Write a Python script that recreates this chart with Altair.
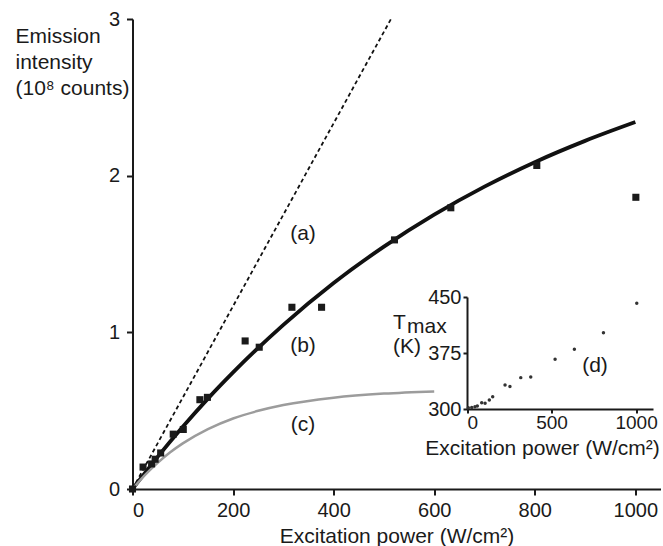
import altair as alt
import pandas as pd

FONT = "Liberation Sans"
INK = "#1a1a1a"

# (a) dashed linear extrapolation
line_a_power = [0, 514]
line_a_intensity = [0.0, 3.0]

# (b) fitted curve through the measured intensities
curve_b_power = [0, 50, 100, 150, 200, 300, 400, 500, 600, 700, 800, 900, 1000]
curve_b_intensity = [0.0, 0.205, 0.397, 0.577, 0.744, 1.048, 1.315, 1.547,
                     1.751, 1.930, 2.086, 2.222, 2.342]

# (c) grey saturation curve
curve_c_power = [0, 25, 50, 75, 100, 150, 200, 250, 300, 400, 500, 600]
curve_c_intensity = [0.0, 0.090, 0.167, 0.234, 0.291, 0.382, 0.450, 0.499,
                     0.536, 0.583, 0.609, 0.623]

# measured emission intensity (10^8 counts)
meas_power = [0, 21, 38, 45, 56, 81, 101, 134, 149, 224, 252, 317, 376,
              521, 633, 804, 1001]
meas_intensity = [0.0, 0.14, 0.16, 0.19, 0.23, 0.35, 0.38, 0.57, 0.585,
                  0.945, 0.905, 1.16, 1.16, 1.59, 1.795, 2.065, 1.862]

# (d) maximum temperature versus excitation power
inset_power = [8, 28, 47, 61, 87, 107, 132, 152, 225, 254, 318, 377, 521,
               635, 807, 1004]
inset_tmax = [301.7, 302.0, 303.0, 304.0, 308.4, 307.6, 312.0, 316.5, 332.0,
              330.0, 342.0, 343.0, 366.5, 380.0, 402.0, 441.5]

# curve labels
label_text = ["(a)", "(b)", "(c)"]
label_power = [339, 339, 339]
label_intensity = [1.63, 0.91, 0.408]

W, H = 528, 470

x_main = alt.X("power:Q",
               scale=alt.Scale(domain=[0, 1050], nice=False),
               axis=alt.Axis(values=[0, 200, 400, 600, 800, 1000], format="d",
                             title="Excitation power (W/cm²)",
                             titleY=53, titleBaseline="alphabetic",
                             labelPadding=5, tickSize=6))
y_main = alt.Y("intensity:Q",
               scale=alt.Scale(domain=[0, 3], nice=False),
               axis=alt.Axis(values=[0, 1, 2, 3], format="d",
                             title=["Emission", "intensity", "(10⁸ counts)"],
                             titleAngle=0, titleAlign="left",
                             titleBaseline="alphabetic",
                             titleX=-117.5, titleY=23, titleLineHeight=26,
                             labelPadding=7, tickSize=6))

df_a = pd.DataFrame({"power": line_a_power, "intensity": line_a_intensity})
df_b = pd.DataFrame({"power": curve_b_power, "intensity": curve_b_intensity})
df_c = pd.DataFrame({"power": curve_c_power, "intensity": curve_c_intensity})
df_m = pd.DataFrame({"power": meas_power, "intensity": meas_intensity})
df_l = pd.DataFrame({"power": label_power, "intensity": label_intensity,
                     "text": label_text})

line_a = alt.Chart(df_a).mark_line(color="#111111", strokeWidth=1.8,
                                   strokeDash=[4, 3]).encode(x=x_main, y=y_main)
line_b = alt.Chart(df_b).mark_line(color="#111111", strokeWidth=3.8,
                                   interpolate="monotone").encode(x=x_main, y=y_main)
line_c = alt.Chart(df_c).mark_line(color="#9c9c9c", strokeWidth=2.5,
                                   interpolate="monotone").encode(x=x_main, y=y_main)
squares = alt.Chart(df_m).mark_point(shape="square", filled=True, size=50,
                                     color=INK, opacity=1).encode(x=x_main, y=y_main)
labels = alt.Chart(df_l).mark_text(font=FONT, fontSize=21, color=INK).encode(
    x=x_main, y=y_main, text="text:N")

main = alt.layer(line_a, line_b, line_c, squares, labels)

# inset: its own scales, mapped onto a small pixel window of the plot
x_in = alt.X("ipower:Q",
             scale=alt.Scale(domain=[0, 1100], range=[334.5, 520.5], nice=False),
             axis=alt.Axis(orient="bottom", offset=-80,
                           values=[0, 500, 1000], format="d",
                           title="Excitation power (W/cm²)",
                           titleX=409.5, titleY=45, titleBaseline="alphabetic",
                           tickSize=4, labelPadding=0, labelFontSize=19))
y_in = alt.Y("tmax:Q",
             scale=alt.Scale(domain=[300, 450], range=[390, 278], nice=False),
             axis=alt.Axis(orient="left", offset=-334.5,
                           values=[300, 375, 450], format="d", title=None,
                           tickSize=4, labelPadding=2))

df_in = pd.DataFrame({"ipower": inset_power, "tmax": inset_tmax})
dots = alt.Chart(df_in).mark_circle(size=12, color="#333333",
                                    opacity=1).encode(x=x_in, y=y_in)

inset_text = ["T", "max", "(K)", "(d)"]
inset_text_power = [-438, -355, -438, 757]
inset_text_tmax = [415.2, 409.8, 383.0, 357.6]
inset_align = ["left", "left", "left", "center"]
df_it = pd.DataFrame({"ipower": inset_text_power, "tmax": inset_text_tmax,
                      "text": inset_text, "align": inset_align})
it_left = alt.Chart(df_it[df_it["align"] == "left"]).mark_text(
    font=FONT, fontSize=21, color=INK, align="left").encode(
    x=x_in, y=y_in, text="text:N")
it_center = alt.Chart(df_it[df_it["align"] == "center"]).mark_text(
    font=FONT, fontSize=21, color=INK, align="center").encode(
    x=x_in, y=y_in, text="text:N")

inset = alt.layer(dots, it_left, it_center)

chart = alt.layer(main, inset).resolve_scale(
    x="independent", y="independent"
).resolve_axis(
    x="independent", y="independent"
).properties(
    width=W, height=H,
    padding={"left": 132.5, "top": 19, "right": 2.5, "bottom": 57},
    autosize=alt.AutoSizeParams(type="none"),
    background="white",
).configure_view(stroke=None).configure_axis(
    grid=False, domainColor=INK, domainWidth=2, tickColor=INK, tickWidth=2,
    labelFont=FONT, labelFontSize=20, labelColor=INK,
    titleFont=FONT, titleFontSize=21, titleColor=INK, titleFontWeight="normal",
)

chart.save("out.html", embed_options={"renderer": "svg", "actions": False})
